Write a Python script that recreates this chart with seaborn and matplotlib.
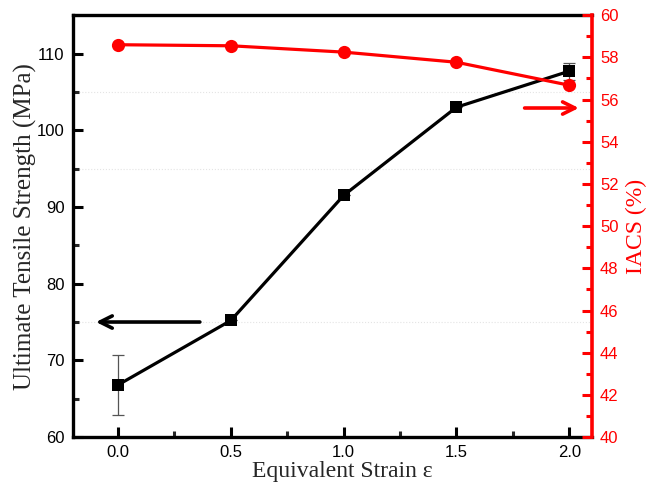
import matplotlib
matplotlib.use("Agg")
import matplotlib.pyplot as plt
import seaborn as sns
import pandas as pd
from matplotlib.ticker import MultipleLocator

# data
strain = [0.0, 0.5, 1.0, 1.5, 2.0]
uts = [66.8, 75.2, 91.5, 103.0, 107.7]
uts_err = [3.9, 0.0, 0.0, 0.0, 1.1]
iacs = [58.6, 58.55, 58.25, 57.77, 56.68]

df = pd.DataFrame({"strain": strain, "uts": uts, "iacs": iacs})

sns.set_style("ticks")
plt.rcParams["font.family"] = ["Liberation Sans", "DejaVu Sans"]

fig = plt.figure(figsize=(6.51, 4.9), dpi=100)
ax = fig.add_axes([0.112, 0.108, 0.797, 0.861])
ax2 = ax.twinx()

# faint dotted guide lines
for yv in [105, 95, 75]:
    ax.axhline(yv, color="#e4e4e4", lw=0.8, ls=":", zorder=0)

ax.errorbar(strain, uts, yerr=uts_err, fmt="none", ecolor="#555555",
            elinewidth=0.9, capsize=4, capthick=0.9, zorder=2)
sns.lineplot(data=df, x="strain", y="uts", ax=ax, color="black", lw=2.3,
             marker="s", markersize=8.5, markeredgewidth=0, zorder=3)
sns.lineplot(data=df, x="strain", y="iacs", ax=ax2, color="#ff0000", lw=2.3,
             marker="o", markersize=9.5, markeredgewidth=0, zorder=3)

ax.set_xlim(-0.2, 2.1)
ax.set_ylim(60, 115)
ax2.set_ylim(40, 60)

ax.xaxis.set_major_locator(MultipleLocator(0.5))
ax.xaxis.set_minor_locator(MultipleLocator(0.25))
ax.yaxis.set_major_locator(MultipleLocator(10))
ax.yaxis.set_minor_locator(MultipleLocator(5))
ax2.yaxis.set_major_locator(MultipleLocator(2))
ax2.yaxis.set_minor_locator(MultipleLocator(1))
ax.xaxis.set_major_formatter(matplotlib.ticker.FormatStrFormatter("%.1f"))

ax.tick_params(axis="both", which="major", direction="in", length=7, width=2.2,
               labelsize=12, pad=6, color="black", labelcolor="black",
               top=False, right=False)
ax.tick_params(axis="both", which="minor", direction="in", length=4, width=2.2,
               top=False, right=False)
ax2.tick_params(axis="y", which="major", direction="in", length=7, width=2.2,
                labelsize=12, pad=6, color="#ff0000", labelcolor="#ff0000")
ax2.tick_params(axis="y", which="minor", direction="in", length=4, width=2.2,
                color="#ff0000")

for side in ["left", "bottom", "top"]:
    ax.spines[side].set_linewidth(2.4)
    ax.spines[side].set_color("black")
ax.spines["right"].set_visible(False)
for side in ["left", "bottom", "top"]:
    ax2.spines[side].set_visible(False)
ax2.spines["right"].set_linewidth(2.6)
ax2.spines["right"].set_color("#ff0000")

serif = ["Liberation Serif", "DejaVu Serif"]
ax.set_xlabel("Equivalent Strain ε", fontsize=17, family=serif)
ax.xaxis.set_label_coords(0.52, -0.057)
ax.set_ylabel("Ultimate Tensile Strength (MPa)", fontsize=18, family=serif, labelpad=0)
ax2.set_ylabel("IACS (%)", fontsize=17, family=serif, color="#ff0000", labelpad=5)

# arrows pointing to each axis
ax.annotate("", xy=(-0.11, 75), xytext=(0.375, 75),
            arrowprops=dict(arrowstyle="->", lw=2.6, color="black", mutation_scale=22))
ax2.annotate("", xy=(2.055, 55.6), xytext=(1.79, 55.6),
             arrowprops=dict(arrowstyle="->", lw=2.6, color="#ff0000", mutation_scale=22))

fig.savefig("out.png", dpi=100)
